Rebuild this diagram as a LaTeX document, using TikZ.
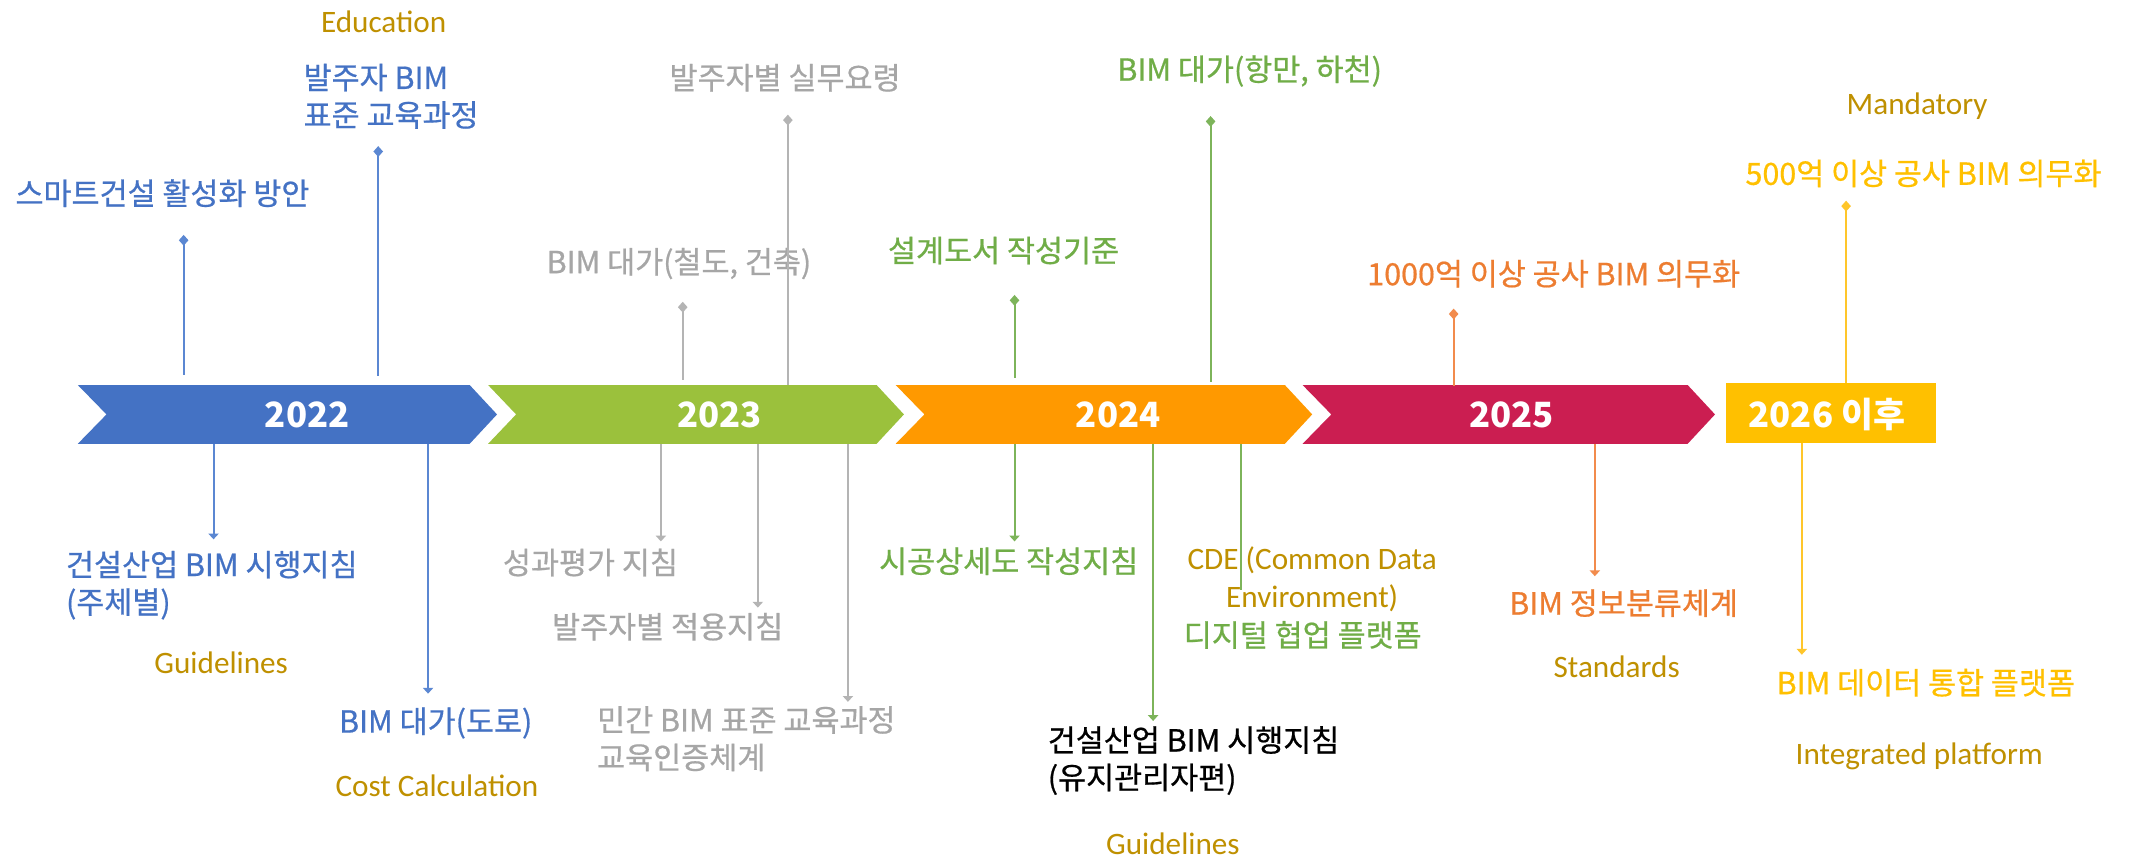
\documentclass[tikz,border=0pt]{standalone}
\usepackage{fontspec}
\setmainfont{Noto Sans CJK KR}
\newfontfamily\krfont[FakeBold=0.6]{Noto Sans CJK KR}
\newfontfamily\yrfont{Noto Sans CJK KR}
\newfontfamily\enfont{Carlito}
\usetikzlibrary{arrows.meta}
\definecolor{cblue}{HTML}{4472C4}
\definecolor{lblue}{HTML}{5B87D2}
\definecolor{cgreen}{HTML}{9BC13C}
\definecolor{tgreen}{HTML}{70AD47}
\definecolor{lgreen}{HTML}{7DB45A}
\definecolor{corange}{HTML}{FF9900}
\definecolor{torange}{HTML}{ED7D31}
\definecolor{lorange}{HTML}{F28B4C}
\definecolor{ccrimson}{HTML}{CB1E51}
\definecolor{cyellow}{HTML}{FFC000}
\definecolor{lyellow}{HTML}{FFC62A}
\definecolor{tgray}{HTML}{A6A6A6}
\definecolor{lgray}{HTML}{B4B4B4}
\definecolor{cgold}{HTML}{BF9000}
\tikzset{
  kt/.style={font=\krfont\fontsize{12.7}{15.6}\selectfont, inner sep=0pt, align=left, anchor=west},
  et/.style={font=\enfont\fontsize{13}{16}\selectfont, text=cgold, inner sep=0pt},
  yr/.style={font=\yrfont\bfseries\fontsize{14.5}{16}\selectfont, text=white, inner sep=0pt},
  upline/.style={line width=0.85pt, {Diamond[length=4.5pt,width=4pt]}-},
  downline/.style={line width=0.85pt, -{Triangle[length=2.4pt,width=4.2pt]}},
  plainline/.style={line width=0.85pt},
}
\begin{document}
\begin{tikzpicture}[x=0.02cm,y=-0.02cm]
\useasboundingbox[fill=white] (0,0) rectangle (1568,628.4);

% ---- timeline bar ----
\fill[cblue]    (57,282) -- (344,282) -- (364,303.5) -- (344,325) -- (57,325) -- (78,303.5) -- cycle;
\fill[cgreen]   (357.5,282) -- (642,282) -- (662,303.5) -- (642,325) -- (357.5,325) -- (378,303.5) -- cycle;
\fill[corange]  (656,282) -- (941,282) -- (961,303.5) -- (941,325) -- (656,325) -- (677,303.5) -- cycle;
\fill[ccrimson] (954,282) -- (1236,282) -- (1256,303.5) -- (1236,325) -- (954,325) -- (975,303.5) -- cycle;
\fill[cyellow]  (1264,280.7) rectangle (1418,324.2);

\node[yr] (y22) at (225,303.5) {2022};
\node[yr] (y23) at (527,303.5) {2023};
\node[yr] (y24) at (819,303.5) {2024};
\node[yr] (y25) at (1107,303.5) {2025};
\node[yr] (y26) at (1338,303.5) {2026 이후};

% ---- upper labels ----
\node[et] (edu) at (281,16) {Education};
\node[kt, text=cblue] (t1) at (222,70.5) {발주자 BIM\\표준 교육과정};
\node[kt, text=cblue] (t2) at (11,141.5) {스마트건설 활성화 방안};
\node[kt, text=tgray] (t3) at (490,57) {발주자별 실무요령};
\node[kt, text=tgray] (t4) at (400,193) {BIM 대가(철도, 건축)};
\node[kt, text=tgreen] (t5) at (818,52) {BIM 대가(항만, 하천)};
\node[kt, text=tgreen] (t6) at (650,183.5) {설계도서 작성기준};
\node[kt, text=torange] (t7) at (1001,200.5) {1000억 이상 공사 BIM 의무화};
\node[et] (mand) at (1404,78) {Mandatory};
\node[kt, text=cyellow] (t8) at (1278,127) {500억 이상 공사 BIM 의무화};

% ---- lower labels ----
\node[kt, text=cblue] (b1) at (48,428.5) {건설산업 BIM 시행지침\\(주체별)};
\node[et] (g1) at (162,485.6) {Guidelines};
\node[kt, text=cblue] (b2) at (248,529.5) {BIM 대가(도로)};
\node[et] (cc) at (320,575.6) {Cost Calculation};
\node[kt, text=tgray] (b3) at (368,412) {성과평가 지침};
\node[kt, text=tgray] (b4) at (404,459) {발주자별 적용지침};
\node[kt, text=tgray] (b5) at (437,541) {민간 BIM 표준 교육과정\\교육인증체계};
\node[kt, text=tgreen] (b6) at (643.5,411) {시공상세도 작성지침};
\node[kt, text=black] (b7) at (767,557) {건설산업 BIM 시행지침\\(유지관리자편)};
\node[et] (g2) at (859,617.6) {Guidelines};
\node[et, align=center] (cde) at (961,424) {CDE (Common Data\\Environment)};
\node[kt, text=tgreen] (b8) at (866.6,465) {디지털 협업 플랫폼};
\node[kt, text=torange] (b9) at (1105,441.7) {BIM 정보분류체계};
\node[et] (std) at (1184,488) {Standards};
\node[kt, text=cyellow] (b10) at (1300.8,500) {BIM 데이터 통합 플랫폼};
\node[et] (ip) at (1405.6,554) {Integrated platform};

% ---- connector end points ----
\coordinate (u1a) at (134.5,172); \coordinate (u1b) at (134.5,274.6);
\coordinate (u2a) at (277,107);   \coordinate (u2b) at (277,275);
\coordinate (u3a) at (500,221);   \coordinate (u3b) at (500,278);
\coordinate (u4a) at (577,84);    \coordinate (u4b) at (577,282);
\coordinate (u5a) at (743,216);   \coordinate (u5b) at (743,277);
\coordinate (u6a) at (886.6,85);  \coordinate (u6b) at (886.6,280);
\coordinate (u7a) at (1064.6,226);\coordinate (u7b) at (1064.6,283);
\coordinate (u8a) at (1352,147);  \coordinate (u8b) at (1352,280.7);

\coordinate (d1a) at (156.4,325); \coordinate (d1b) at (156.4,395);
\coordinate (d2a) at (313.5,325); \coordinate (d2b) at (313.5,508);
\coordinate (d3a) at (484,325);   \coordinate (d3b) at (484,396.5);
\coordinate (d4a) at (555,325);   \coordinate (d4b) at (555,445);
\coordinate (d5a) at (621,325);   \coordinate (d5b) at (621,514);
\coordinate (d6a) at (743,325);   \coordinate (d6b) at (743,396.5);
\coordinate (d7a) at (844.5,325); \coordinate (d7b) at (844.5,528);
\coordinate (d8a) at (909,325);   \coordinate (d8b) at (909,432);
\coordinate (d9a) at (1168,325);  \coordinate (d9b) at (1168,422);
\coordinate (d10a) at (1319.6,324.2); \coordinate (d10b) at (1319.6,479.5);

% ---- connectors above ----
\draw[upline, lblue] (u1a) -- (u1b);
\draw[upline, lblue] (u2a) -- (u2b);
\draw[upline, lgray] (u3a) -- (u3b);
\draw[upline, lgray] (u4a) -- (u4b);
\draw[upline, lgreen] (u5a) -- (u5b);
\draw[upline, lgreen] (u6a) -- (u6b);
\draw[upline, lorange] (u7a) -- (u7b);
\draw[upline, lyellow] (u8a) -- (u8b);

% ---- connectors below ----
\draw[downline, lblue] (d1a) -- (d1b);
\draw[downline, lblue] (d2a) -- (d2b);
\draw[downline, lgray] (d3a) -- (d3b);
\draw[downline, lgray] (d4a) -- (d4b);
\draw[downline, lgray] (d5a) -- (d5b);
\draw[downline, lgreen] (d6a) -- (d6b);
\draw[downline, lgreen] (d7a) -- (d7b);
\draw[plainline, lgreen] (d8a) -- (d8b);
\draw[downline, lorange] (d9a) -- (d9b);
\draw[downline, lyellow] (d10a) -- (d10b);
\end{tikzpicture}
\end{document}
